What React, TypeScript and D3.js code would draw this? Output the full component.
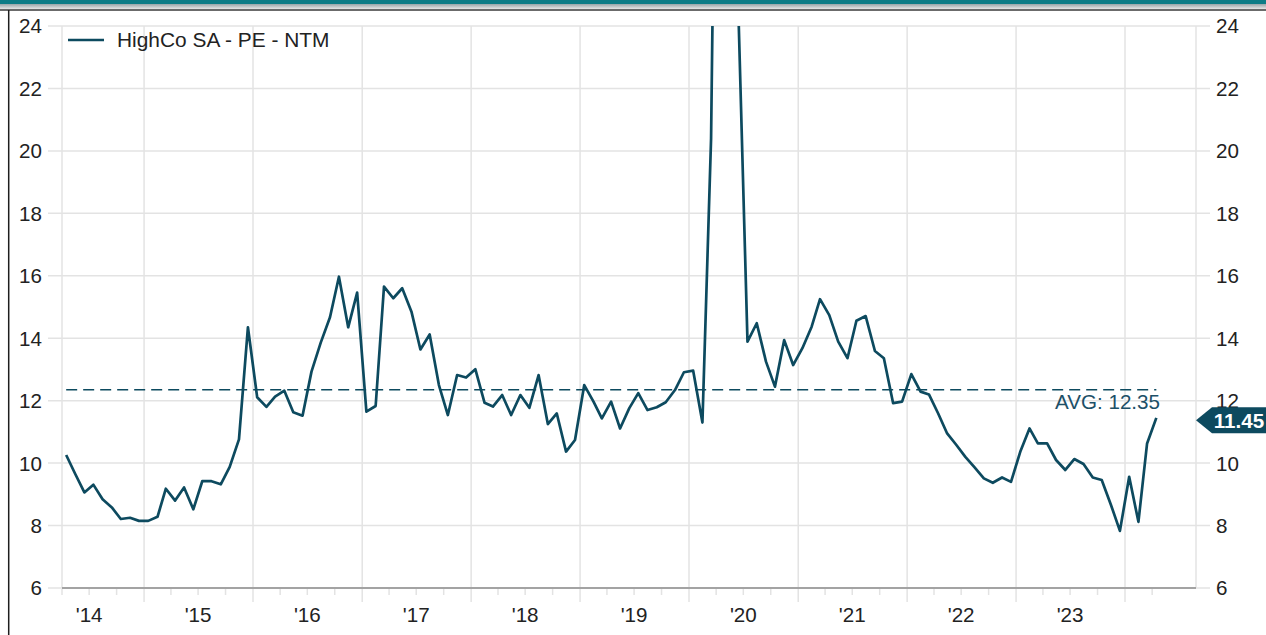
import React from "react";
import * as d3 from "d3";

// ---- data ----
const seriesName = "HighCo SA - PE - NTM";
const firstMonth = new Date(2014, 3, 15);
const peValues: number[] = [
  10.26, 9.66, 9.06, 9.31, 8.84, 8.58, 8.21, 8.25, 8.15, 8.15,
  8.28, 9.18, 8.8, 9.22, 8.52, 9.42, 9.42, 9.32, 9.88, 10.76,
  14.35, 12.11, 11.8, 12.13, 12.32, 11.63, 11.52, 12.93, 13.86, 14.67,
  15.97, 14.35, 15.46, 11.65, 11.83, 15.65, 15.28, 15.6, 14.85, 13.64,
  14.12, 12.5, 11.54, 12.82, 12.74, 13.01, 11.93, 11.81, 12.18, 11.54,
  12.18, 11.77, 12.82, 11.25, 11.59, 10.37, 10.74, 12.5, 11.97, 11.43,
  11.97, 11.11, 11.76, 12.24, 11.7, 11.79, 11.95, 12.34, 12.91, 12.96,
  11.3, 20.4, 45, 38, 24.3, 13.89, 14.48, 13.25, 12.45, 13.94,
  13.14, 13.68, 14.37, 15.25, 14.74, 13.89, 13.36, 14.56, 14.71, 13.59,
  13.36, 11.92, 11.97, 12.85, 12.29, 12.2, 11.59, 10.95, 10.58, 10.2,
  9.86, 9.51, 9.37, 9.54, 9.4, 10.36, 11.11, 10.63, 10.63, 10.1,
  9.78, 10.13, 9.97, 9.54, 9.46, 8.66, 7.83, 9.56, 8.12, 10.63,
  11.45,
];
const avgValue = 12.35;
const lastValue = 11.45;
const yTicks = [6, 8, 10, 12, 14, 16, 18, 20, 22, 24];
const yearLabels = ["'14", "'15", "'16", "'17", "'18", "'19", "'20", "'21", "'22", "'23"];
const labelYears = [2014, 2015, 2016, 2017, 2018, 2019, 2020, 2021, 2022, 2023];

const dates = peValues.map((_, i) => d3.timeMonth.offset(firstMonth, i));

export default function App() {
  const W = 1266, H = 635;
  const left = 62, right = 1196, top = 26, bottom = 588;
  const x = d3.scaleTime().domain([new Date(2014, 3, 1), new Date(2024, 0, 1)]).range([left, 1125]);
  const y = d3.scaleLinear().domain([6, 24]).range([bottom, top]);
  const font = "'Liberation Sans', Arial, sans-serif";
  const lineColor = "#0d4a5f";
  const gridColor = "#e3e3e3";
  const fs = 20.6;

  const startDate = x.invert(left);
  const lastDate = dates[dates.length - 1];
  const quarterTicks = d3.timeMonth.every(3)!.range(startDate, d3.timeDay.offset(lastDate, 1));
  const yearGrid = d3.timeYear.range(d3.timeDay.offset(startDate, 1), x.invert(right));

  const line = d3
    .line<number>()
    .x((_, i) => x(dates[i]))
    .y((d) => y(d));

  const tagY = y(lastValue) + 2.5;
  const tagH = 13;

  return (
    <svg width={W} height={H} style={{ position: "absolute", left: 0, top: 0, background: "#fff" }} fontFamily={font}>
      <defs>
        <clipPath id="plot">
          <rect x={left} y={top} width={right - left} height={bottom - top} />
        </clipPath>
        <linearGradient id="shade" x1="0" y1="0" x2="0" y2="1">
          <stop offset="0" stopColor="#9aa5a8" />
          <stop offset="1" stopColor="#e6e6e6" />
        </linearGradient>
      </defs>
      {/* top band */}
      <rect x={0} y={0} width={W} height={4} fill="#0e7c86" />
      <rect x={0} y={4} width={W} height={5} fill="url(#shade)" />
      <line x1={0} x2={W} y1={10} y2={10} stroke="#3a3a3a" strokeWidth={1.5} />
      <line x1={8.7} x2={8.7} y1={10} y2={H} stroke="#1e1e1e" strokeWidth={1.5} />

      {/* horizontal grid */}
      {yTicks.map((t) => (
        <line key={"h" + t} x1={48} x2={1210} y1={y(t)} y2={y(t)} stroke={gridColor} strokeWidth={1.5} />
      ))}
      {/* vertical grid */}
      {[left, ...yearGrid.map((d) => x(d)), right].map((gx, i) => (
        <line key={"v" + i} x1={gx} x2={gx} y1={top} y2={bottom} stroke={gridColor} strokeWidth={1.5} />
      ))}
      {/* x axis line */}
      <line x1={left} x2={right} y1={bottom} y2={bottom} stroke="#a3a3a3" strokeWidth={1.8} />
      {/* x ticks */}
      {quarterTicks.map((d, i) => {
        const major = d.getMonth() === 0;
        return (
          <line key={"t" + i} x1={x(d)} x2={x(d)} y1={bottom + 1} y2={bottom + (major ? 14 : 7)} stroke={gridColor} strokeWidth={1.5} />
        );
      })}
      {/* x labels */}
      {labelYears.map((yr, i) => (
        <text key={"xl" + yr} x={x(new Date(yr, 6, 1))} y={622} textAnchor="middle" fontSize={fs} fill="#222">
          {yearLabels[i]}
        </text>
      ))}
      {/* y labels */}
      {yTicks.map((t) => (
        <g key={"yl" + t}>
          <text x={42} y={y(t)} dy="0.36em" textAnchor="end" fontSize={fs} fill="#222">
            {t}
          </text>
          <text x={1216} y={y(t)} dy="0.36em" textAnchor="start" fontSize={fs} fill="#222">
            {t}
          </text>
        </g>
      ))}

      {/* average */}
      <line
        x1={x(dates[0])}
        x2={x(lastDate)}
        y1={y(avgValue)}
        y2={y(avgValue)}
        stroke={lineColor}
        strokeWidth={1.5}
        strokeDasharray="11,6"
      />
      <text x={1160} y={y(avgValue) + 19} textAnchor="end" fontSize={fs} fill="#1d5068">
        {`AVG: ${avgValue.toFixed(2)}`}
      </text>

      {/* series */}
      <g clipPath="url(#plot)">
        <path d={line(peValues) || ""} fill="none" stroke={lineColor} strokeWidth={2.7} strokeLinejoin="round" />
      </g>

      {/* last value tag */}
      <path
        d={`M${right},${tagY} L${right + 16},${tagY - tagH} L${W},${tagY - tagH} L${W},${tagY + tagH} L${right + 16},${tagY + tagH} Z`}
        fill={lineColor}
      />
      <text x={1239} y={tagY} dy="0.36em" textAnchor="middle" fontSize={fs} fontWeight="bold" fill="#fff">
        {lastValue.toFixed(2)}
      </text>

      {/* legend */}
      <line x1={68} x2={104} y1={40} y2={40} stroke={lineColor} strokeWidth={2.7} />
      <text x={117} y={47} fontSize={20.9} fill="#222">
        {seriesName}
      </text>
    </svg>
  );
}
